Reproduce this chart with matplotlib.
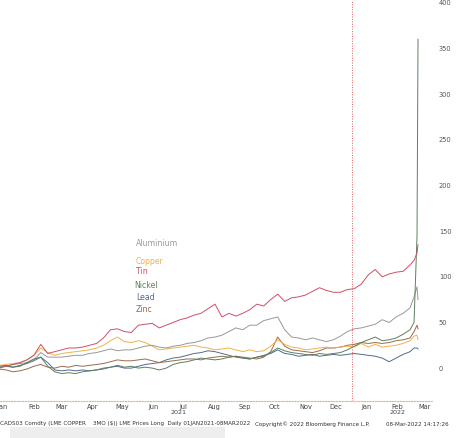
import pandas as pd
import matplotlib.pyplot as plt
from matplotlib.patches import Rectangle

# weekly closes (% change since start of 2021), plus the last few days of the nickel squeeze
dates = list(pd.date_range("2021-01-04", "2022-02-28", freq="7D")) + \
    [pd.Timestamp("2022-03-04"), pd.Timestamp("2022-03-07"), pd.Timestamp("2022-03-08")]

aluminium = [0, 1, 2, 4, 5, 6, 9, 17, 12, 12, 12, 13, 14, 14, 16, 17, 19, 21, 19, 20,
             20, 22, 24, 25, 23, 22, 24, 25, 27, 28, 30, 33, 34, 36, 40, 44, 42, 47, 47, 52,
             54, 56, 42, 34, 33, 31, 33, 31, 29, 31, 35, 40, 43, 44, 46, 48, 53, 50, 56, 60,
             66, 78, 89, 75]
copper = [0, 3, 4, 5, 6, 9, 14, 22, 17, 14, 16, 17, 18, 19, 20, 22, 25, 30, 34, 29,
          28, 30, 28, 24, 20, 21, 22, 23, 24, 25, 23, 22, 20, 21, 22, 20, 18, 20, 18, 19,
          24, 31, 26, 23, 22, 20, 21, 22, 23, 22, 23, 24, 23, 27, 23, 26, 23, 24, 25, 27,
          30, 35, 36, 31]
tin = [0, 0, 2, 4, 6, 9, 14, 26, 16, 18, 20, 22, 22, 23, 25, 27, 33, 42, 43, 40,
       39, 47, 48, 49, 44, 47, 50, 53, 55, 58, 60, 65, 70, 56, 60, 57, 60, 64, 70, 68,
       75, 81, 73, 77, 78, 80, 84, 88, 85, 83, 83, 86, 87, 92, 102, 108, 100, 103, 105, 106,
       113, 118, 126, 135]
nickel = [0, 2, 3, 1, 2, 6, 10, 12, 2, -4, -6, -5, -6, -4, -3, -2, -1, 1, 3, 1,
          2, 0, 1, 0, -2, 0, 4, 6, 7, 9, 11, 10, 9, 10, 12, 13, 11, 10, 12, 13,
          17, 22, 19, 17, 16, 15, 14, 16, 15, 16, 17, 20, 24, 28, 31, 34, 30, 31, 33, 37,
          42, 50, 145, 360]
lead = [0, 1, 2, 1, 3, 5, 8, 12, 6, -2, -3, -2, -3, -2, -3, -2, 0, 1, 2, 0,
        0, 2, 4, 5, 6, 9, 11, 12, 14, 16, 17, 19, 18, 16, 14, 12, 11, 10, 12, 14,
        16, 20, 16, 15, 13, 14, 15, 13, 14, 15, 14, 15, 16, 15, 14, 13, 11, 7, 11, 15,
        18, 22, 22, 21]
zinc = [0, -1, -2, -4, -3, -1, 2, 4, 1, 0, 2, 1, 3, 2, 3, 4, 5, 7, 9, 8,
        8, 9, 10, 8, 6, 7, 8, 9, 10, 10, 9, 11, 12, 13, 12, 13, 12, 11, 10, 12,
        18, 34, 24, 20, 19, 18, 17, 19, 22, 22, 23, 25, 26, 28, 27, 28, 27, 28, 30, 31,
        33, 40, 47, 43]

names = ["Aluminium", "Copper", "Tin", "Nickel", "Lead", "Zinc"]
series = [aluminium, copper, tin, nickel, lead, zinc]
colors = ["#999999", "#f4b04a", "#cf4f68", "#5f7f5f", "#4f6d8f", "#9a6b4b"]

yticks = [0, 50, 100, 150, 200, 250, 300, 350, 400]
month_labels = ["Jan", "Feb", "Mar", "Apr", "May", "Jun", "Jul", "Aug", "Sep", "Oct",
                "Nov", "Dec", "Jan", "Feb", "Mar"]

fig = plt.figure(figsize=(4.69, 4.38), dpi=100)
ax = fig.add_axes([0, 0.0845, 0.921, 0.9155])

# draw the smaller movers first so tin and the nickel spike sit on top
for i in [4, 5, 1, 0, 3, 2]:
    ax.plot(dates, series[i], color=colors[i], lw=0.7)

ax.set_xlim(pd.Timestamp("2021-01-12"), pd.Timestamp("2022-03-22"))
ax.set_ylim(-36, 403)

ax.axvline(pd.Timestamp("2022-01-01"), color="#e06060", lw=0.7, ls=(0, (1, 1.5)))

for s in ["top", "left", "right"]:
    ax.spines[s].set_visible(False)
ax.spines["bottom"].set_color("#f0b070")
ax.spines["bottom"].set_linestyle((0, (1, 1.5)))
ax.spines["bottom"].set_linewidth(0.8)

ax.yaxis.tick_right()
ax.set_yticks(yticks)
ax.set_yticklabels([str(v) for v in yticks])
ax.tick_params(axis="y", length=0, pad=5, labelsize=4.8, labelcolor="#555555")

# month names sit in the middle of each month
mids = pd.date_range("2021-01-01", "2022-03-01", freq="MS") + pd.Timedelta(days=14)
ax.set_xticks(list(mids))
ax.set_xticklabels(month_labels)
ax.tick_params(axis="x", length=0, pad=2, labelsize=4.8, labelcolor="#444444")

trans = ax.get_xaxis_transform()
ax.text(pd.Timestamp("2021-07-10"), -0.022, "2021", transform=trans, fontsize=4.6,
        color="#444444", ha="center", va="top")
ax.text(pd.Timestamp("2022-02-15"), -0.022, "2022", transform=trans, fontsize=4.6,
        color="#444444", ha="center", va="top")

# legend written as coloured labels inside the plot
ly = [244, 261, 272, 285, 297, 310]
lx = [136, 136, 136, 134, 136, 136]
for n, c, x, y in zip(names, colors, lx, ly):
    fig.text(x / 469, 1 - y / 438, n, color=c, fontsize=5.6, va="center", ha="left")

foot_y = 1 - 424 / 438
fig.text(0.0, foot_y, "CADS03 Comdty (LME COPPER    3MO ($)) LME Prices Long  Daily 01JAN2021-08MAR2022",
         fontsize=4.1, color="#333333", va="center")
fig.text(255 / 469, foot_y, "Copyright\u00a9 2022 Bloomberg Finance L.P.", fontsize=4.1,
         color="#333333", va="center")
fig.text(386 / 469, foot_y, "08-Mar-2022 14:17:26", fontsize=4.1, color="#333333", va="center")

fig.patches.append(Rectangle((10 / 469, 0), 215 / 469, 11 / 438, transform=fig.transFigure,
                             facecolor="#eeeeee", edgecolor="none"))

fig.savefig("out.png", dpi=100)
